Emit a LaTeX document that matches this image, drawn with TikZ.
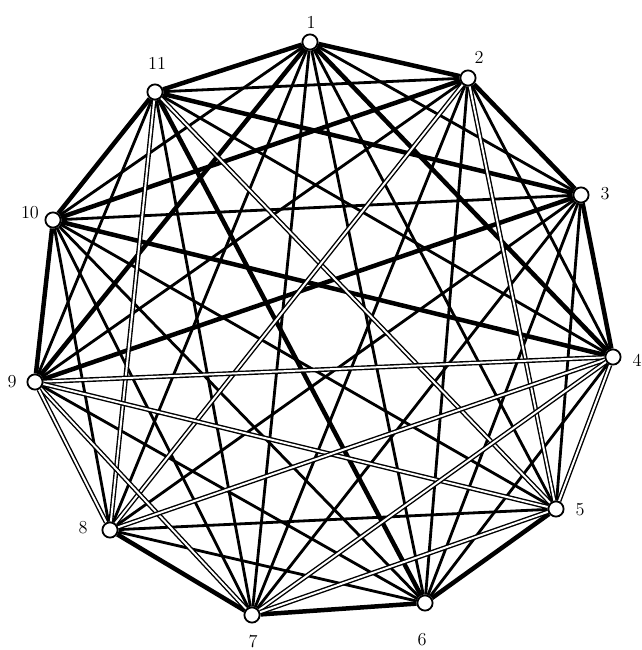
\documentclass[tikz,border=0pt]{standalone}
\usepackage{tikz}
\usetikzlibrary{backgrounds}

\tikzset{
  vertex/.style={circle, draw, fill=white, line width=1.3pt, minimum size=0.38cm, inner sep=0pt},
  plainedge/.style={line width=2pt},
  heavyedge/.style={line width=3.2pt},
  hollowedge/.style={line width=3.4pt, postaction={draw=white, line width=1.4pt}},
  numlabel/.style={font=\fontsize{13}{15}\selectfont, inner sep=0pt}
}

\begin{document}
\begin{tikzpicture}[x=0.025cm, y=-0.025cm]

\useasboundingbox (0,0) rectangle (642,650);

% Points on the circle
\node[vertex] (v1) at (310,42) {};
\node[vertex] (v2) at (468,78) {};
\node[vertex] (v3) at (581,195) {};
\node[vertex] (v4) at (613,357) {};
\node[vertex] (v5) at (556,509) {};
\node[vertex] (v6) at (425,603) {};
\node[vertex] (v7) at (252,615) {};
\node[vertex] (v8) at (110,530) {};
\node[vertex] (v9) at (35,382) {};
\node[vertex] (v10) at (53,220) {};
\node[vertex] (v11) at (155,92) {};

% Numbers
\node[numlabel] (l1) at (311,22) {1};
\node[numlabel] (l2) at (479,57) {2};
\node[numlabel] (l3) at (605,194) {3};
\node[numlabel] (l4) at (637,360) {4};
\node[numlabel] (l5) at (580,510) {5};
\node[numlabel] (l6) at (422,640) {6};
\node[numlabel] (l7) at (253,642) {7};
\node[numlabel] (l8) at (83,528) {8};
\node[numlabel] (l9) at (12,382) {9};
\node[numlabel] (l10) at (30,213) {10};
\node[numlabel] (l11) at (157,63) {11};

\begin{scope}[on background layer]
% Plain black lines
\foreach \a/\b in {1/3,1/5,1/6,1/7,1/8,1/10,2/4,2/6,2/7,2/9,2/11,
                   3/5,3/6,3/7,3/8,3/10,4/6,4/11,5/8,5/10,6/8,6/9,6/10,
                   7/10,7/11,8/10,9/11}
  \draw[plainedge] (v\a) -- (v\b);

% Heavy black lines
\foreach \a/\b in {1/2,1/4,1/9,1/11,2/3,2/10,3/4,3/9,3/11,4/10,5/6,6/7,6/11,7/8,9/10,10/11}
  \draw[heavyedge] (v\a) -- (v\b);

% White lines
\foreach \a/\b in {11/8,11/5,2/8,2/5,9/4,9/5,9/7,9/8,8/4,7/4,7/5,4/5}
  \draw[hollowedge] (v\a) -- (v\b);
\end{scope}

\end{tikzpicture}
\end{document}
